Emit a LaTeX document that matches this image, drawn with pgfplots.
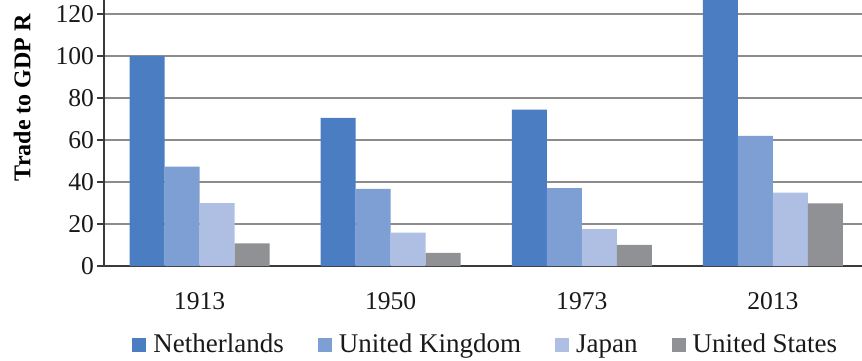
\documentclass[border=0pt]{standalone}
\usepackage{fontspec}
\setmainfont{Liberation Serif}
\usepackage{pgfplots}
\pgfplotsset{compat=1.18}
\definecolor{cNL}{HTML}{4A7DC2}
\definecolor{cUK}{HTML}{7D9FD3}
\definecolor{cJP}{HTML}{AFBFE3}
\definecolor{cUS}{HTML}{909194}
\definecolor{axc}{HTML}{3A3A3A}
\definecolor{grc}{HTML}{8C8C8C}
\begin{document}
\begin{tikzpicture}
\useasboundingbox (-52pt,-47pt) rectangle (379pt,133pt);
\clip (-52pt,-47pt) rectangle (379pt,133pt);
\begin{axis}[
  scale only axis,
  width=379pt, height=133pt,
  at={(0,0)}, anchor=south west,
  ybar=0pt, bar width=17.5pt,
  xmin=-0.5, xmax=3.466,
  ymin=0, ymax=126.67,
  axis x line*=bottom, axis y line*=left,
  axis line style={-, axc, line width=1pt},
  tick pos=left,
  tick align=outside,
  xtick={0,1,2,3},
  xticklabels={1913,1950,1973,2013},
  xtick style={draw=none},
  extra x ticks={0.5,1.5,2.5},
  extra x tick labels={},
  extra x tick style={major tick length=4pt, tick style={axc, line width=1pt}},
  ytick={0,20,40,60,80,100,120},
  ytick style={axc, line width=0.8pt},
  major tick length=3.5pt,
  ymajorgrids,
  major grid style={grc, line width=0.75pt},
  /pgf/number format/assume math mode=true,
  ticklabel style={font=\rmfamily\fontsize{12.8}{14}\selectfont, text=black!90},
  xticklabel style={yshift=-6pt},
  yticklabel style={xshift=2pt},
  ylabel={Trade to GDP R},
  ylabel style={font=\rmfamily\fontsize{12}{14}\selectfont\bfseries, at={(axis description cs:-0.108,0.293)}, anchor=west},
  legend columns=4,
  legend style={draw=none, fill=none, at={(axis description cs:0.505,-0.297)}, anchor=center,
    font=\rmfamily\fontsize{13.5}{15}\selectfont, text=black!90,
    /tikz/every even column/.append style={column sep=15pt}},
  legend image code/.code={\fill[#1] (0pt,-3.5pt) rectangle (7pt,3.5pt); \path (8.5pt,0pt);},
]
\addplot[fill=cNL, draw=none] coordinates {(0,100) (1,70.5) (2,74.5) (3,155)};
\addplot[fill=cUK, draw=none] coordinates {(0,47.3) (1,36.7) (2,37.1) (3,62)};
\addplot[fill=cJP, draw=none] coordinates {(0,30) (1,15.9) (2,17.6) (3,35)};
\addplot[fill=cUS, draw=none] coordinates {(0,10.8) (1,6.2) (2,10.1) (3,29.8)};
\legend{Netherlands, United Kingdom, Japan, United States}
\end{axis}
\end{tikzpicture}
\end{document}
